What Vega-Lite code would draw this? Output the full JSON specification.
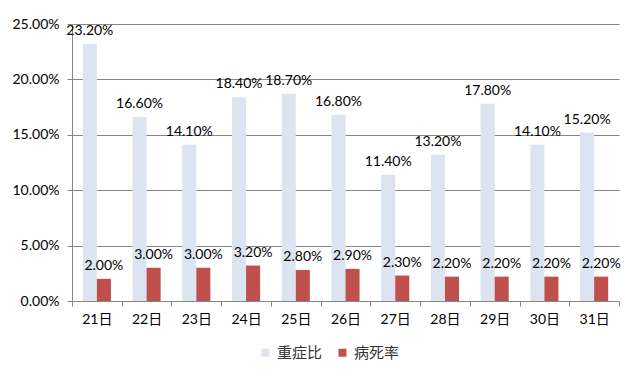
{
  "$schema": "https://vega.github.io/schema/vega-lite/v6.json",
  "autosize": {"type": "none"},
  "width": 547,
  "height": 277,
  "padding": {"left": 72, "top": 24, "right": 21, "bottom": 83},
  "background": "white",
  "config": {
    "font": "Lato, Noto Sans CJK SC",
    "view": {"stroke": null}
  },
  "data": {
    "values": [
      {"day": "21日", "series": "重症比", "value": 0.232},
      {"day": "21日", "series": "病死率", "value": 0.020},
      {"day": "22日", "series": "重症比", "value": 0.166},
      {"day": "22日", "series": "病死率", "value": 0.030},
      {"day": "23日", "series": "重症比", "value": 0.141},
      {"day": "23日", "series": "病死率", "value": 0.030},
      {"day": "24日", "series": "重症比", "value": 0.184},
      {"day": "24日", "series": "病死率", "value": 0.032},
      {"day": "25日", "series": "重症比", "value": 0.187},
      {"day": "25日", "series": "病死率", "value": 0.028},
      {"day": "26日", "series": "重症比", "value": 0.168},
      {"day": "26日", "series": "病死率", "value": 0.029},
      {"day": "27日", "series": "重症比", "value": 0.114},
      {"day": "27日", "series": "病死率", "value": 0.023},
      {"day": "28日", "series": "重症比", "value": 0.132},
      {"day": "28日", "series": "病死率", "value": 0.022},
      {"day": "29日", "series": "重症比", "value": 0.178},
      {"day": "29日", "series": "病死率", "value": 0.022},
      {"day": "30日", "series": "重症比", "value": 0.141},
      {"day": "30日", "series": "病死率", "value": 0.022},
      {"day": "31日", "series": "重症比", "value": 0.152},
      {"day": "31日", "series": "病死率", "value": 0.022}
    ]
  },
  "encoding": {
    "x": {
      "field": "day", "type": "nominal", "sort": null,
      "scale": {"paddingInner": 0, "paddingOuter": 0},
      "axis": {
        "title": null, "labelAngle": 0, "tickBand": "extent",
        "domainColor": "#868686", "tickColor": "#868686", "tickSize": 5,
        "labelFontSize": 14, "labelColor": "#000000", "labelPadding": 6
      }
    },
    "xOffset": {
      "field": "series", "type": "nominal", "sort": ["重症比", "病死率"],
      "scale": {"paddingInner": 0, "paddingOuter": 0.77}
    },
    "y": {
      "field": "value", "type": "quantitative",
      "scale": {"domain": [0, 0.25], "nice": false},
      "axis": {
        "title": null, "format": ".2%", "values": [0, 0.05, 0.1, 0.15, 0.2, 0.25],
        "gridColor": "#868686", "gridOpacity": 1, "domainColor": "#868686",
        "tickColor": "#868686", "tickSize": 5, "labelPadding": 8,
        "labelFontSize": 14, "labelColor": "#000000"
      }
    }
  },
  "layer": [
    {
      "mark": {"type": "bar"},
      "encoding": {
        "color": {
          "field": "series", "type": "nominal",
          "scale": {"domain": ["重症比", "病死率"], "range": ["#dbe4f0", "#c0504d"]},
          "legend": {
            "title": null, "orient": "none", "direction": "horizontal",
            "legendX": 186, "legendY": 321,
            "symbolType": "square", "symbolSize": 64, "symbolStrokeWidth": 0,
            "labelFontSize": 15, "labelColor": "#333333", "labelOffset": 4,
            "columnPadding": 12
          }
        }
      }
    },
    {
      "mark": {"type": "text", "baseline": "bottom", "dy": -6, "fontSize": 14, "color": "#000000"},
      "encoding": {
        "text": {"field": "value", "type": "quantitative", "format": ".2%"}
      }
    }
  ]
}
